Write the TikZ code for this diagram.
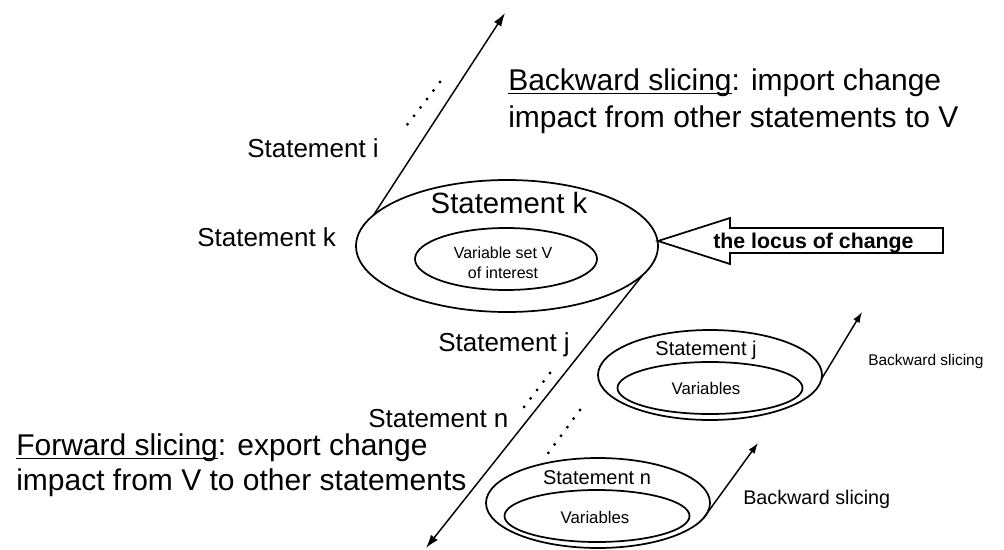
\documentclass[tikz,border=0pt]{standalone}
\usepackage{fontspec}
\setmainfont{Liberation Sans}
\usetikzlibrary{shapes.geometric,arrows.meta}

% underline with a fixed drop below the baseline
\newcommand\ulword[1]{{\setbox0\hbox{#1}\rlap{\rule[-3.2pt]{\wd0}{0.9pt}}\box0}}

\begin{document}
\begin{tikzpicture}[x=0.75pt,y=-0.75pt,
  lbl/.style={font=\fontsize{19.5}{23}\selectfont,inner sep=0pt,anchor=base west},
  bigtxt/.style={font=\fontsize{22.5}{27}\selectfont,inner sep=0pt,anchor=base west},
  oval/.style={ellipse,draw,line width=1.3pt,inner sep=0pt,outer sep=0pt},
  conn/.style={line width=1.1pt,-{Latex[length=10pt,width=6.5pt]}},
  smallconn/.style={line width=1.1pt,-{Latex[length=8pt,width=5.5pt]}},
  dots/.style={line width=2.4pt,line cap=round,dash pattern=on 0pt off 8pt},
]
\useasboundingbox (0,0) rectangle (1004,550);

% --- statement k with its variable set ---
\node[oval,minimum width=226.5pt,minimum height=99pt] (kout) at (507,246) {};
\node[oval,minimum width=136.5pt,minimum height=46.5pt] (kin) at (506,259) {};
\node[font=\fontsize{22}{26}\selectfont,inner sep=0pt,anchor=base] (ktitle) at (509,213.5) {Statement k};
\node[font=\fontsize{12}{14}\selectfont,inner sep=0pt,anchor=base] (kv1) at (503,258) {Variable set V};
\node[font=\fontsize{12}{14}\selectfont,inner sep=0pt,anchor=base] (kv2) at (503,278) {of interest};

% --- statement j ---
\node[oval,minimum width=168pt,minimum height=67.5pt] (jout) at (710,375) {};
\node[oval,minimum width=138.75pt,minimum height=39pt] (jin) at (710,388) {};
\node[font=\fontsize{15}{18}\selectfont,inner sep=0pt,anchor=base] (jtitle) at (706,355) {Statement j};
\node[font=\fontsize{12.6}{15}\selectfont,inner sep=0pt,anchor=base] (jvar) at (706,394) {Variables};

% --- statement n ---
\node[oval,minimum width=168pt,minimum height=67.5pt] (nout) at (598,503) {};
\node[oval,minimum width=138.75pt,minimum height=39pt] (nin) at (597,516) {};
\node[font=\fontsize{15}{18}\selectfont,inner sep=0pt,anchor=base] (ntitle) at (597,484) {Statement n};
\node[font=\fontsize{12.6}{15}\selectfont,inner sep=0pt,anchor=base] (nvar) at (595,523) {Variables};

% --- statement labels along the slicing lines ---
\node[lbl] (si) at (247,157.5) {Statement i};
\node[lbl] (sk) at (197,246.5) {Statement k};
\node[lbl] (sj) at (438,351.5) {Statement j};
\node[lbl] (sn) at (368,427) {Statement n};

% --- explanations ---
\node[bigtxt] (bw1) at (508,90) {\ulword{Backward slicing}: import change};
\node[bigtxt] (bw2) at (508,127) {impact from other statements to V};
\node[bigtxt] (fw1) at (16,455) {\ulword{Forward slicing}: export change};
\node[bigtxt] (fw2) at (16,490) {impact from V to other statements};

\node[font=\fontsize{11.6}{14}\selectfont,inner sep=0pt,anchor=base west] (jbs) at (868,365.5) {Backward slicing};
\node[font=\fontsize{14.8}{17}\selectfont,inner sep=0pt,anchor=base west] (nbs) at (743,504) {Backward slicing};

% --- free ends of the slicing arrows ---
\coordinate (uptip) at (505,13);
\coordinate (downtip) at (426,548);
\coordinate (jtip) at (862,312);
\coordinate (ntip) at (758,443);

\draw[conn] (kout.167) -- (uptip);
\draw[conn] (kout.-12) -- (downtip);
\draw[smallconn] (jout.-2) -- (jtip);
\draw[smallconn] (nout.-8) -- (ntip);

% --- omitted statements ---
\coordinate (d1a) at (440,82);   \coordinate (d1b) at (407,125);
\coordinate (d2a) at (550,373);  \coordinate (d2b) at (518,415);
\coordinate (d3a) at (580,410);  \coordinate (d3b) at (546,456);
\draw[dots] (d1a) -- (d1b);
\draw[dots] (d2a) -- (d2b);
\draw[dots] (d3a) -- (d3b);

% --- block arrow pointing at statement k ---
\draw[line width=1.3pt,line join=miter] (658,241) -- (730,218) -- (730,228) -- (943,228)
  -- (943,253) -- (730,253) -- (730,264) -- cycle;
\node[font=\bfseries\fontsize{16}{19}\selectfont,inner sep=0pt,anchor=base west] (locus) at (713,248) {the locus of change};
\end{tikzpicture}
\end{document}
